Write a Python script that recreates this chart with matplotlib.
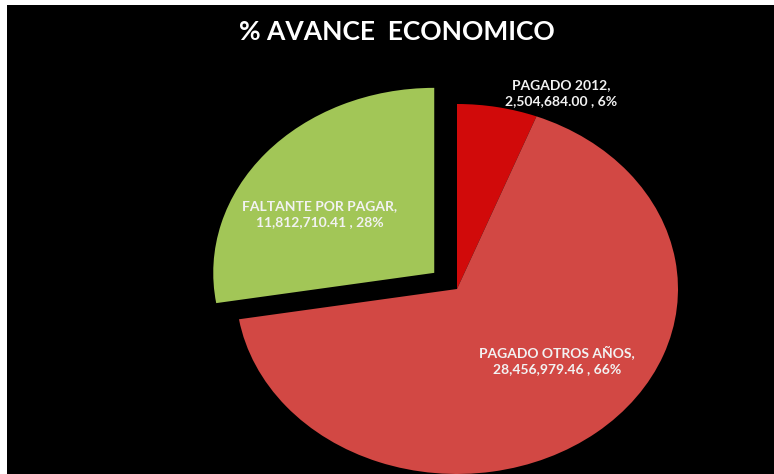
import matplotlib.pyplot as plt
from matplotlib.patches import Rectangle

# data
labels = ['PAGADO 2012', 'PAGADO OTROS AÑOS', 'FALTANTE POR PAGAR']
amounts = [2504684.00, 28456979.46, 11812710.41]
percents = [6, 66, 28]
colors = ['#D10A0A', '#D24844', '#A2C657']
explode = [0.0, 0.0, 0.135]

W, H = 774, 474
fig = plt.figure(figsize=(W / 100, H / 100), dpi=100, facecolor='white')

# black chart area (white margin top/left)
fig.patches.append(Rectangle((7 / W, 0), 1, 1 - 5 / H, transform=fig.transFigure,
                             facecolor='black', edgecolor='none', zorder=-5))

# pie drawn as ellipse: axes box = ellipse bounding box
cx, cy, rx, ry = 457, 289, 221, 185
ax = fig.add_axes([(cx - rx) / W, (H - cy - ry) / H, 2 * rx / W, 2 * ry / H])
ax.pie(amounts, colors=colors, startangle=90, counterclock=False, explode=explode,
       wedgeprops={'clip_on': False, 'linewidth': 0})
ax.set_aspect('auto')
ax.set_xlim(-1, 1)
ax.set_ylim(-1, 1)
ax.axis('off')

fig.text(397 / W, 1 - 32 / H, '% AVANCE  ECONOMICO', ha='center', va='center',
         color='white', fontsize=19, fontweight='bold', family='Lato')

label_pos = [(561, 93), (557, 360), (320, 214)]
for lab, amt, pct, (x, y) in zip(labels, amounts, percents, label_pos):
    fig.text(x / W, 1 - y / H, f'{lab},\n{amt:,.2f} , {pct}%', ha='center', va='center',
             color='#F2F2F2', fontsize=10, fontweight='bold', family='Lato',
             linespacing=1.4)

fig.savefig('out.png', dpi=100, facecolor=fig.get_facecolor())
